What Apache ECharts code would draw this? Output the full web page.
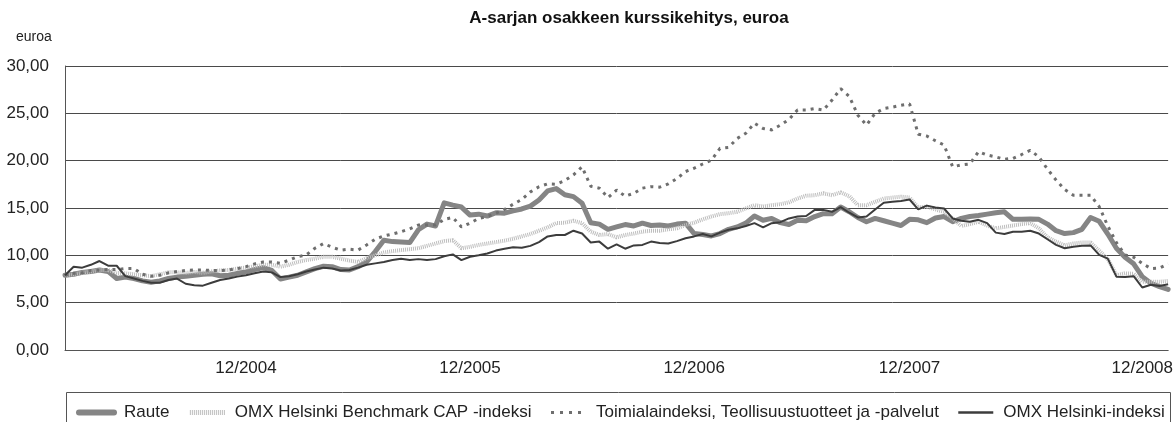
<!DOCTYPE html>
<html>
<head>
<meta charset="utf-8">
<title>A-sarjan osakkeen kurssikehitys</title>
<script src="https://cdn.jsdelivr.net/npm/echarts@6/dist/echarts.min.js"></script>
<style>
  html, body { margin: 0; background: #fff; }
  #chart { width: 1176px; height: 422px; }
</style>
</head>
<body>
<div id="chart"></div>
<script>
// biweekly points, 2004-2008
const raute = [
  7.9, 8.0, 8.2, 8.3, 8.45, 8.3, 7.55, 7.7, 7.55, 7.3, 7.15, 7.3, 7.55, 7.7, 7.8, 7.9, 8.0, 8.05, 7.85, 7.9,
  8.1, 8.25, 8.5, 8.7, 8.4, 7.5, 7.7, 7.9, 8.25, 8.6, 8.85, 8.8, 8.5, 8.45, 8.8, 9.3, 10.4, 11.6, 11.45, 11.4,
  11.35, 12.7, 13.3,
  13.1, 15.55, 15.3, 15.1, 14.25, 14.35, 14.15, 14.5, 14.45, 14.7, 14.9, 15.2, 15.85, 16.8, 17.05, 16.4, 16.2, 15.5, 13.45, 13.3,
  12.75, 13.0, 13.25, 13.1, 13.4, 13.15, 13.2, 13.1, 13.3, 13.4, 12.3, 12.2, 12.05, 12.3, 12.75, 13.0, 13.4, 14.15, 13.7, 13.9,
  13.45, 13.25, 13.7,
  13.65, 14.1, 14.4, 14.4, 15.1, 14.6, 14.0, 13.55, 13.9, 13.65, 13.4, 13.15, 13.8, 13.75, 13.45, 13.95, 14.1, 13.55, 13.9, 14.1,
  14.2, 14.35, 14.5, 14.6, 13.8, 13.8, 13.85, 13.8, 13.3, 12.6, 12.3, 12.4, 12.75, 14.0, 13.6, 12.25, 10.75, 9.8, 9.1, 7.75,
  7.05, 6.7, 6.4
];
const benchmark = [
  7.9, 8.0, 8.15, 8.3, 8.45, 8.45, 8.15, 8.1, 8.0, 7.9, 7.8, 8.0, 8.2, 8.2, 8.15, 8.25, 8.15, 8.3, 8.4, 8.45,
  8.6, 8.7, 8.85, 9.0, 9.0, 8.8, 9.0, 9.3, 9.5, 9.65, 9.85, 9.85, 9.65, 9.45, 9.3, 9.7, 10.0, 10.3, 10.45, 10.55,
  10.65, 10.75, 11.0,
  11.25, 11.5, 11.6, 10.75, 10.9, 11.1, 11.25, 11.4, 11.55, 11.75, 12.0, 12.25, 12.6, 12.95, 13.4, 13.45, 13.65, 13.4, 12.5, 12.15,
  12.25, 11.9, 12.15, 12.3, 12.5, 12.6, 12.6, 12.75, 12.85, 13.2, 13.45, 13.8, 14.1, 14.35, 14.45, 14.6, 14.95, 15.3, 15.15, 15.3,
  15.4, 15.6, 16.0,
  16.3, 16.35, 16.55, 16.35, 16.65, 16.25, 15.3, 15.3, 15.65, 16.0, 16.1, 16.2, 16.1, 15.05, 15.15, 14.85, 14.6, 13.9, 13.1, 13.3,
  13.55, 13.15, 12.85, 13.0, 13.15, 13.3, 13.4, 12.85, 11.9, 11.45, 11.05, 11.25, 11.35, 11.35, 10.5, 9.6, 7.9, 8.1, 8.05, 7.2,
  7.2, 7.2, 7.3
];
const toimiala = [
  7.9, 8.1, 8.15, 8.4, 8.45, 8.5, 8.5, 8.6, 8.6, 8.0, 7.8, 7.9, 8.15, 8.3, 8.4, 8.45, 8.45, 8.4, 8.4, 8.45,
  8.6, 8.8, 9.1, 9.3, 9.3, 9.15, 9.5, 9.85, 10.05, 10.75, 11.25, 10.85, 10.55, 10.65, 10.55, 11.1, 11.7, 12.05, 12.25, 12.5,
  12.8, 13.2, 13.2,
  13.2, 13.8, 14.0, 13.0, 13.4, 13.9, 14.1, 14.45, 14.85, 15.4, 15.9, 16.7, 17.25, 17.55, 17.5, 17.9, 18.5, 19.35, 17.3, 17.1,
  16.1, 16.9, 16.25, 16.55, 17.1, 17.25, 17.2, 17.55, 18.1, 18.85, 19.2, 19.65, 20.05, 21.3, 21.4, 22.35, 22.9, 23.95, 23.4, 23.25,
  23.75, 24.35, 25.35,
  25.35, 25.5, 25.35, 26.4, 27.6, 26.8, 24.8, 23.75, 25.0, 25.5, 25.65, 25.85, 26.0, 22.8, 22.6, 22.1, 21.65, 19.35, 19.55, 19.65,
  20.95, 20.6, 20.4, 20.15, 20.25, 20.65, 21.1, 20.4, 19.1, 17.95, 16.95, 16.35, 16.35, 16.35, 15.15, 13.1, 11.35, 10.05, 9.8, 9.15,
  8.6, 8.65, 9.1
];
const omxHelsinki = [
  7.9, 8.8, 8.7, 9.0, 9.4, 8.9, 8.9, 7.8, 7.55, 7.3, 7.1, 7.1, 7.4, 7.55, 7.0, 6.85, 6.8, 7.1, 7.4, 7.55,
  7.75, 7.9, 8.1, 8.3, 8.2, 7.7, 7.8, 8.0, 8.3, 8.5, 8.7, 8.6, 8.4, 8.45, 8.7, 9.0, 9.15, 9.3, 9.5, 9.65,
  9.5, 9.6, 9.5,
  9.6, 9.9, 10.1, 9.5, 9.85, 10.0, 10.2, 10.5, 10.7, 10.85, 10.8, 11.0, 11.4, 12.0, 12.15, 12.15, 12.6, 12.3, 11.35, 11.45,
  10.7, 11.15, 10.7, 11.05, 11.1, 11.45, 11.3, 11.25, 11.5, 11.8, 12.0, 12.25, 12.0, 12.4, 12.7, 12.85, 13.1, 13.4, 12.95, 13.4,
  13.5, 13.9, 14.1,
  14.15, 14.8, 14.8, 14.6, 15.1, 14.5, 14.0, 14.1, 14.85, 15.55, 15.65, 15.75, 15.9, 14.85, 15.25, 15.05, 14.95, 13.9, 13.65, 13.55,
  13.75, 13.4, 12.4, 12.25, 12.5, 12.5, 12.6, 12.3, 11.7, 11.1, 10.75, 10.9, 11.0, 11.05, 10.05, 9.65, 7.75, 7.7, 7.8, 6.6,
  6.9, 6.75, 6.95
];

// x-axis tick labels, keyed by point index
const tickLabels = { 21: "12/2004", 47: "12/2005", 73: "12/2006", 98: "12/2007", 125: "12/2008" };
const categories = raute.map((v, i) => String(i));

const names = [
  "Raute",
  "OMX Helsinki Benchmark CAP -indeksi",
  "Toimialaindeksi, Teollisuustuotteet ja -palvelut",
  "OMX Helsinki-indeksi"
];

const font = "Liberation Sans, Arial, sans-serif";
const chart = echarts.init(document.getElementById("chart"));

chart.setOption({
  animation: false,
  backgroundColor: "#fff",
  grid: { left: 65, right: 6, top: 66, bottom: 72 },
  graphic: [
    {
      type: "text",
      x: 629, y: 18,
      style: {
        text: "A-sarjan osakkeen kurssikehitys, euroa",
        font: "bold 17px " + font,
        fill: "#111",
        align: "center",
        verticalAlign: "middle"
      }
    },
    {
      type: "text",
      x: 16, y: 37,
      style: { text: "euroa", font: "14px " + font, fill: "#222", verticalAlign: "middle" }
    },
    {
      type: "rect",
      shape: { x: 66.5, y: 392.5, width: 1104, height: 40 },
      style: { fill: "none", stroke: "#555", lineWidth: 1 }
    }
  ],
  legend: {
    left: 76,
    top: 404,
    padding: 0,
    itemWidth: 35,
    itemHeight: 14,
    itemGap: 18,
    // hide the marker dot, keep only the line sample
    itemStyle: { opacity: 0 },
    textStyle: { fontFamily: font, fontSize: 17, color: "#222", padding: [0, 0, 0, 5] },
    data: [
      { name: names[0], lineStyle: { width: 6, cap: "round", opacity: 1 } },
      { name: names[1], lineStyle: { width: 5, type: [1, 1], opacity: 1 } },
      { name: names[2], lineStyle: { width: 3, type: [3, 6], opacity: 1 } },
      { name: names[3], lineStyle: { width: 2.5, opacity: 1 } }
    ]
  },
  xAxis: {
    type: "category",
    data: categories,
    boundaryGap: false,
    axisTick: { show: false },
    axisLine: { lineStyle: { color: "#555", width: 1 } },
    axisLabel: {
      interval: (idx) => tickLabels[idx] !== undefined,
      formatter: (val, idx) => tickLabels[idx] || "",
      margin: 10,
      fontFamily: font,
      fontSize: 17,
      color: "#222"
    },
    splitLine: { show: false }
  },
  yAxis: {
    type: "value",
    min: 0,
    max: 30,
    interval: 5,
    axisLine: { show: true, lineStyle: { color: "#555", width: 1 } },
    axisTick: { show: false },
    axisLabel: {
      margin: 16,
      fontFamily: font,
      fontSize: 17,
      color: "#222",
      formatter: (v) => v.toFixed(2).replace(".", ",")
    },
    splitLine: { lineStyle: { color: "#4a4a4a", width: 1 } }
  },
  series: [
    {
      name: names[0], type: "line", data: raute, symbol: "none",
      itemStyle: { color: "#858585" },
      lineStyle: { color: "#858585", width: 5, cap: "round", join: "round" }
    },
    {
      name: names[1], type: "line", data: benchmark, symbol: "none",
      itemStyle: { color: "#bdbdbd" },
      lineStyle: { color: "#bdbdbd", width: 4, type: [1, 1] }
    },
    {
      name: names[2], type: "line", data: toimiala, symbol: "none",
      itemStyle: { color: "#6e6e6e" },
      lineStyle: { color: "#6e6e6e", width: 3, type: [3, 5] }
    },
    {
      name: names[3], type: "line", data: omxHelsinki, symbol: "none",
      itemStyle: { color: "#3c3c3c" },
      lineStyle: { color: "#3c3c3c", width: 2 }
    }
  ]
});
</script>
</body>
</html>
